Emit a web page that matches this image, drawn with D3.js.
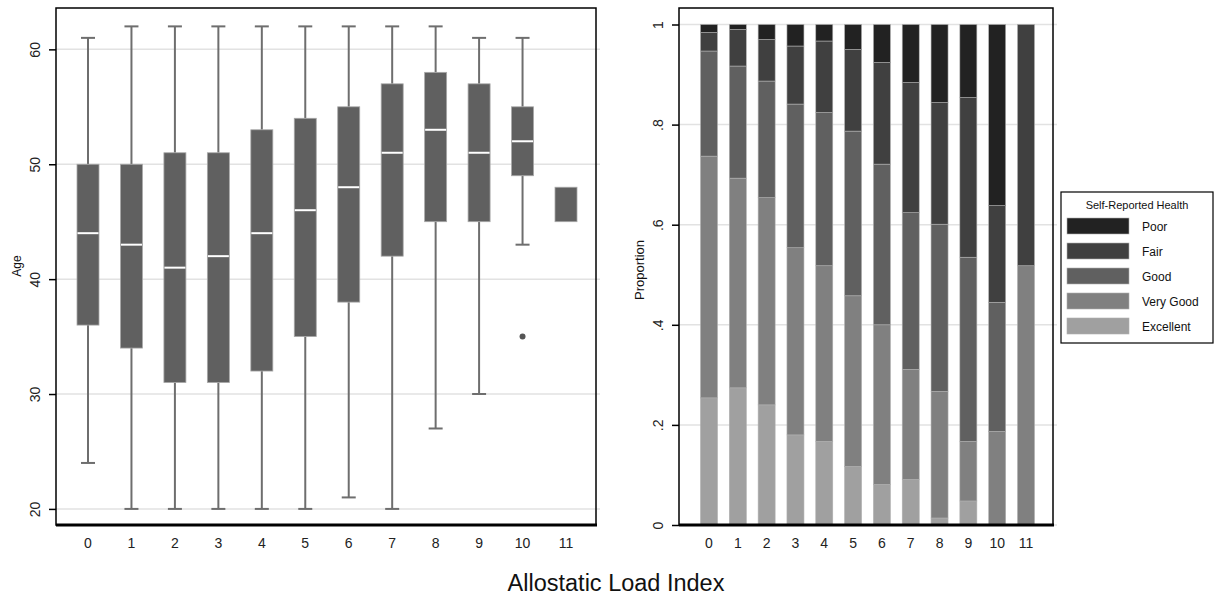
<!DOCTYPE html>
<html>
<head>
<meta charset="utf-8">
<script src="https://cdn.jsdelivr.net/npm/d3@7"></script>
<style>
  body { margin: 0; background: #fff; }
  svg { font-family: "Liberation Sans", Arial, sans-serif; }
</style>
</head>
<body>
<div class="chart"></div>
<script>
// Data
const categories = ["0", "1", "2", "3", "4", "5", "6", "7", "8", "9", "10", "11"];

// Age box plots (left panel)
const ageLow    = [24, 20, 20, 20, 20, 20, 21, 20, 27, 30, 43, 45];
const ageQ1     = [36, 34, 31, 31, 32, 35, 38, 42, 45, 45, 49, 45];
const ageMedian = [44, 43, 41, 42, 44, 46, 48, 51, 53, 51, 52, 48];
const ageQ3     = [50, 50, 51, 51, 53, 54, 55, 57, 58, 57, 55, 48];
const ageHigh   = [61, 62, 62, 62, 62, 62, 62, 62, 62, 61, 61, 48];
const ageOutliers = [{ cat: "10", value: 35 }];
const ageTicks = [20, 30, 40, 50, 60];

// Self-reported health shares (right panel)
const healthLevels = ["Excellent", "Very Good", "Good", "Fair", "Poor"];
const excellent = [0.254, 0.274, 0.240, 0.180, 0.167, 0.117, 0.081, 0.091, 0.014, 0.048, 0.000, 0.000];
const veryGood  = [0.483, 0.419, 0.414, 0.374, 0.351, 0.341, 0.319, 0.220, 0.253, 0.119, 0.187, 0.518];
const good      = [0.210, 0.224, 0.233, 0.287, 0.306, 0.329, 0.321, 0.313, 0.334, 0.368, 0.258, 0.000];
const fair      = [0.037, 0.073, 0.083, 0.116, 0.143, 0.163, 0.203, 0.260, 0.243, 0.319, 0.193, 0.482];
const poor      = [0.016, 0.010, 0.030, 0.043, 0.033, 0.050, 0.076, 0.116, 0.156, 0.146, 0.362, 0.000];
const propTicks = [0, 0.2, 0.4, 0.6, 0.8, 1];

const healthColors = {
    "Poor": "#222222",
    "Fair": "#404040",
    "Good": "#606060",
    "Very Good": "#808080",
    "Excellent": "#a0a0a0"
};

const width = 1215;
const height = 601;

const svg = d3.select(".chart").append("svg")
    .attr("width", width)
    .attr("height", height);

// ---------- Left panel: box plots ----------
const L = { left: 56, right: 596, top: 8, bottom: 525 };

const xBox = d3.scalePoint()
    .domain(categories)
    .range([88, 566]);

const yAge = d3.scaleLinear()
    .domain([18.6, 63.6])
    .range([L.bottom, L.top]);

const left = svg.append("g");

// grid lines
left.selectAll(".grid")
    .data(ageTicks)
    .enter()
    .append("line")
    .attr("x1", L.left)
    .attr("x2", L.right + 4)
    .attr("y1", d => yAge(d))
    .attr("y2", d => yAge(d))
    .attr("stroke", "#e2e2e2")
    .attr("stroke-width", 1.5);

const boxData = categories.map((c, i) => ({
    cat: c, low: ageLow[i], q1: ageQ1[i], med: ageMedian[i], q3: ageQ3[i], high: ageHigh[i]
}));

const boxW = 22;
const capW = 14;
const whisk = "#6e6e6e";

const boxes = left.selectAll(".box")
    .data(boxData)
    .enter()
    .append("g")
    .attr("class", "box");

// whiskers
boxes.filter(d => d.high > d.q3).append("line")
    .attr("x1", d => xBox(d.cat)).attr("x2", d => xBox(d.cat))
    .attr("y1", d => yAge(d.q3)).attr("y2", d => yAge(d.high))
    .attr("stroke", whisk).attr("stroke-width", 2);
boxes.filter(d => d.high > d.q3).append("line")
    .attr("x1", d => xBox(d.cat) - capW / 2).attr("x2", d => xBox(d.cat) + capW / 2)
    .attr("y1", d => yAge(d.high)).attr("y2", d => yAge(d.high))
    .attr("stroke", whisk).attr("stroke-width", 2);
boxes.filter(d => d.low < d.q1).append("line")
    .attr("x1", d => xBox(d.cat)).attr("x2", d => xBox(d.cat))
    .attr("y1", d => yAge(d.q1)).attr("y2", d => yAge(d.low))
    .attr("stroke", whisk).attr("stroke-width", 2);
boxes.filter(d => d.low < d.q1).append("line")
    .attr("x1", d => xBox(d.cat) - capW / 2).attr("x2", d => xBox(d.cat) + capW / 2)
    .attr("y1", d => yAge(d.low)).attr("y2", d => yAge(d.low))
    .attr("stroke", whisk).attr("stroke-width", 2);

// box
boxes.append("rect")
    .attr("x", d => xBox(d.cat) - boxW / 2)
    .attr("width", boxW)
    .attr("y", d => yAge(d.q3))
    .attr("height", d => yAge(d.q1) - yAge(d.q3))
    .attr("fill", "#606060")
    .attr("stroke", "#a8a8a8")
    .attr("stroke-width", 0.8);

// median
boxes.filter(d => d.med > d.q1 && d.med < d.q3).append("line")
    .attr("x1", d => xBox(d.cat) - boxW / 2 + 0.5).attr("x2", d => xBox(d.cat) + boxW / 2 - 0.5)
    .attr("y1", d => yAge(d.med)).attr("y2", d => yAge(d.med))
    .attr("stroke", "#ffffff").attr("stroke-width", 2);

// outliers
left.selectAll(".outlier")
    .data(ageOutliers)
    .enter()
    .append("circle")
    .attr("cx", d => xBox(d.cat))
    .attr("cy", d => yAge(d.value))
    .attr("r", 3)
    .attr("fill", "#555");

// frame
left.append("rect")
    .attr("x", L.left).attr("y", L.top)
    .attr("width", L.right - L.left).attr("height", L.bottom - L.top)
    .attr("fill", "none").attr("stroke", "#000").attr("stroke-width", 1.5);
left.append("line")
    .attr("x1", L.left).attr("x2", L.right + 1)
    .attr("y1", L.bottom).attr("y2", L.bottom)
    .attr("stroke", "#000").attr("stroke-width", 3);

// y axis
const yAxisL = left.append("g")
    .attr("transform", `translate(${L.left}, 0)`)
    .call(d3.axisLeft(yAge).tickValues(ageTicks).tickSize(7).tickFormat(d3.format("d")));
yAxisL.select(".domain").remove();
yAxisL.selectAll("line").attr("stroke", "#000").attr("stroke-width", 1.5);
yAxisL.selectAll("text")
    .attr("transform", "rotate(-90)")
    .attr("x", 0).attr("y", -16).attr("dy", 0)
    .attr("text-anchor", "middle")
    .attr("font-size", 14)
    .attr("fill", "#222");

// x labels
left.selectAll(".xlab")
    .data(categories)
    .enter()
    .append("text")
    .attr("x", d => xBox(d))
    .attr("y", 548)
    .attr("text-anchor", "middle")
    .attr("font-size", 14)
    .attr("fill", "#222")
    .text(d => d);

left.append("text")
    .attr("transform", "translate(21, 266) rotate(-90)")
    .attr("text-anchor", "middle")
    .attr("font-size", 12)
    .attr("fill", "#111")
    .text("Age");

// ---------- Right panel: stacked bars ----------
const R = { left: 679, right: 1053, top: 8, bottom: 525 };

const xBar = d3.scalePoint()
    .domain(categories)
    .range([709, 1026]);

const yProp = d3.scaleLinear()
    .domain([0, 1])
    .range([525, 24.5]);

const right = svg.append("g");

right.selectAll(".grid")
    .data(propTicks)
    .enter()
    .append("line")
    .attr("x1", R.left)
    .attr("x2", R.right + 4)
    .attr("y1", d => yProp(d))
    .attr("y2", d => yProp(d))
    .attr("stroke", "#e2e2e2")
    .attr("stroke-width", 1.5);

const table = categories.map((c, i) => ({
    cat: c,
    "Excellent": excellent[i],
    "Very Good": veryGood[i],
    "Good": good[i],
    "Fair": fair[i],
    "Poor": poor[i]
}));

const stacked = d3.stack().keys(healthLevels)(table);
const barW = 17;

right.selectAll(".layer")
    .data(stacked)
    .enter()
    .append("g")
    .attr("fill", d => healthColors[d.key])
    .selectAll("rect")
    .data(d => d.filter(p => p[1] - p[0] > 0))
    .enter()
    .append("rect")
    .attr("x", d => xBar(d.data.cat) - barW / 2)
    .attr("width", barW)
    .attr("y", d => yProp(d[1]))
    .attr("height", d => yProp(d[0]) - yProp(d[1]))
    .attr("stroke", "#b0b0b0")
    .attr("stroke-width", 0.6);

right.append("rect")
    .attr("x", R.left).attr("y", R.top)
    .attr("width", R.right - R.left).attr("height", R.bottom - R.top)
    .attr("fill", "none").attr("stroke", "#000").attr("stroke-width", 1.5);
right.append("line")
    .attr("x1", R.left).attr("x2", R.right + 1)
    .attr("y1", R.bottom).attr("y2", R.bottom)
    .attr("stroke", "#000").attr("stroke-width", 3);

const yAxisR = right.append("g")
    .attr("transform", `translate(${R.left}, 0)`)
    .call(d3.axisLeft(yProp).tickValues(propTicks).tickSize(7)
        .tickFormat(d => d === 0 ? "0" : d === 1 ? "1" : String(d).replace("0.", ".")));
yAxisR.select(".domain").remove();
yAxisR.selectAll("line").attr("stroke", "#000").attr("stroke-width", 1.5);
yAxisR.selectAll("text")
    .attr("transform", "rotate(-90)")
    .attr("x", 0).attr("y", -16).attr("dy", 0)
    .attr("text-anchor", "middle")
    .attr("font-size", 14)
    .attr("fill", "#222");

right.selectAll(".xlab")
    .data(categories)
    .enter()
    .append("text")
    .attr("x", d => xBar(d))
    .attr("y", 548)
    .attr("text-anchor", "middle")
    .attr("font-size", 14)
    .attr("fill", "#222")
    .text(d => d);

right.append("text")
    .attr("transform", "translate(644, 270) rotate(-90)")
    .attr("text-anchor", "middle")
    .attr("font-size", 13)
    .attr("fill", "#111")
    .text("Proportion");

// legend
const legend = svg.append("g").attr("transform", "translate(1061, 192)");
legend.append("rect")
    .attr("width", 152).attr("height", 151)
    .attr("fill", "#fff").attr("stroke", "#000").attr("stroke-width", 1.2);
legend.append("text")
    .attr("x", 76).attr("y", 17)
    .attr("text-anchor", "middle")
    .attr("font-size", 11)
    .attr("fill", "#111")
    .text("Self-Reported Health");

const legendKeys = healthLevels.slice().reverse();
const rows = legend.selectAll(".row")
    .data(legendKeys)
    .enter()
    .append("g")
    .attr("transform", (d, i) => `translate(6, ${26 + i * 25})`);
rows.append("rect")
    .attr("width", 62).attr("height", 16)
    .attr("fill", d => healthColors[d])
    .attr("stroke", "#b0b0b0").attr("stroke-width", 0.6);
rows.append("text")
    .attr("x", 75).attr("y", 12.5)
    .attr("font-size", 12)
    .attr("fill", "#111")
    .text(d => d);

// shared x title
svg.append("text")
    .attr("x", 616).attr("y", 591)
    .attr("text-anchor", "middle")
    .attr("font-size", 23.5)
    .attr("fill", "#111")
    .text("Allostatic Load Index");
</script>
</body>
</html>
